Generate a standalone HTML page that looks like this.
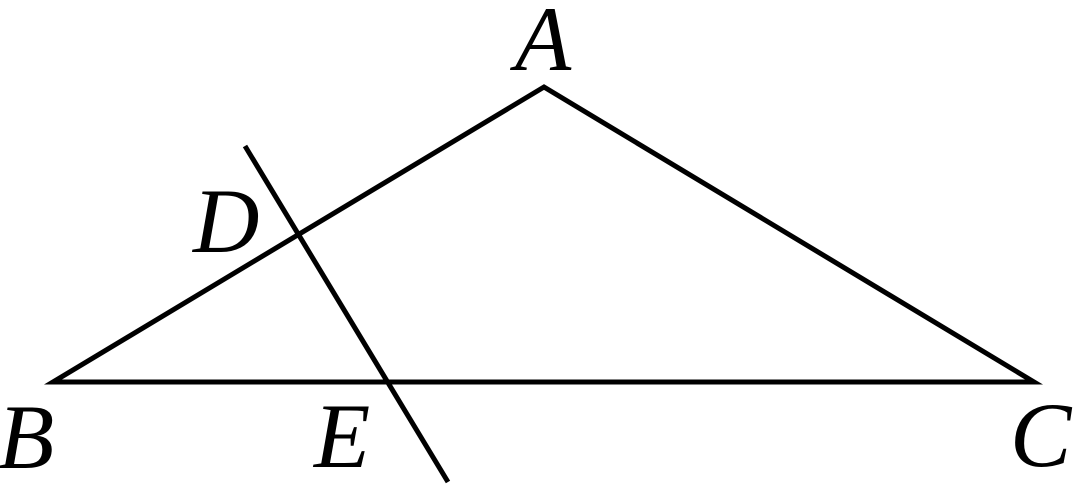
<!DOCTYPE html>
<html><head><style>html,body{margin:0;padding:0;background:#fff;}svg{display:block}
text{font-family:"Liberation Serif","Times New Roman","DejaVu Serif",serif;font-style:italic;font-size:92px;fill:#000;}</style></head>
<body>
<svg width="1080" height="486" viewBox="0 0 1080 486" xmlns="http://www.w3.org/2000/svg">
<g stroke="#000" stroke-width="5" fill="none" stroke-linejoin="miter">
<polygon points="544,87 1034,382 53,382"/>
<line x1="245" y1="146" x2="448" y2="482"/>
</g>
<text x="515" y="70">A</text>
<text x="-2" y="468">B</text>
<text x="1010" y="466">C</text>
<text x="193" y="252">D</text>
<text x="314" y="467">E</text>
</svg>
</body></html>
